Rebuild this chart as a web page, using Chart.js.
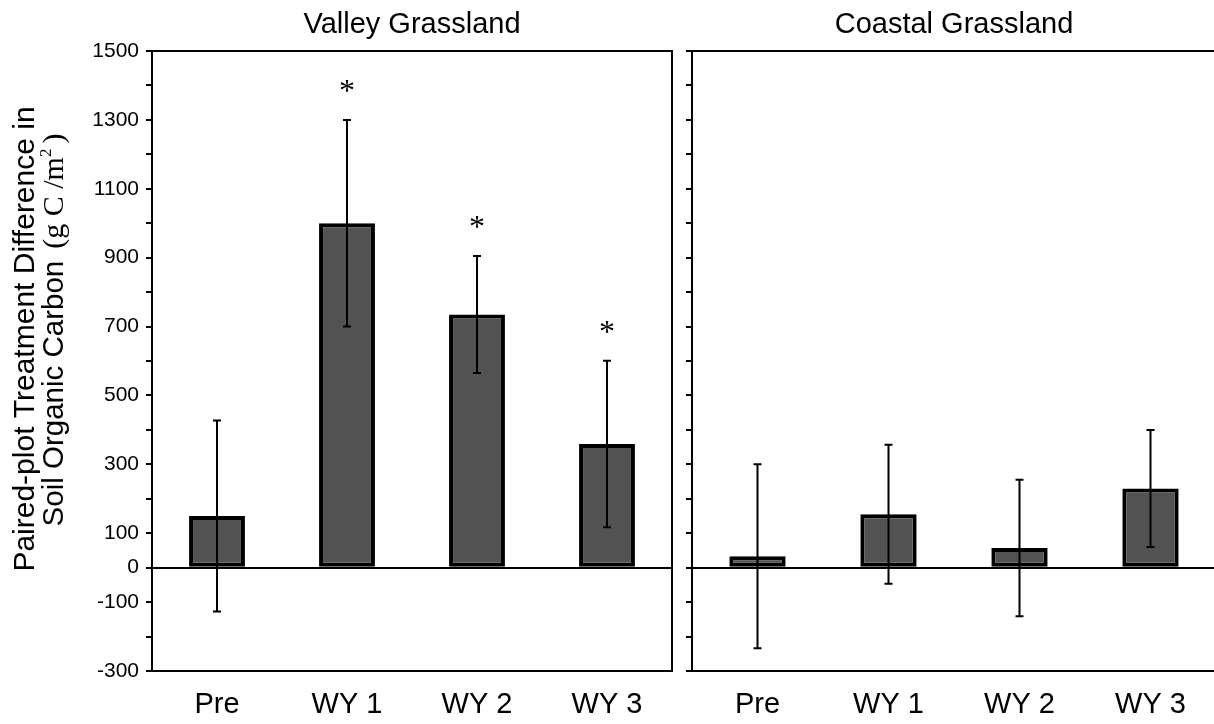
<!DOCTYPE html>
<html lang="en">
<head>
<meta charset="UTF-8">
<title>Paired-plot treatment difference in soil organic carbon</title>
<script src="https://cdn.jsdelivr.net/npm/chart.js"></script>
<style>
  html, body { margin: 0; padding: 0; background: #fff; overflow: hidden; }
  #wrap { position: relative; width: 1214px; height: 724px; }
  .panel { position: absolute; top: 0; }
  #valleyBox { left: 0; }
  #coastalBox { left: 680px; }
</style>
</head>
<body>
<div id="wrap">
  <div class="panel" id="valleyBox"><canvas id="valleyChart" width="680" height="724"></canvas></div>
  <div class="panel" id="coastalBox"><canvas id="coastalChart" width="540" height="724"></canvas></div>
</div>
<script>
// treatment difference (g C/m2) with error bars, per sampling year
const categories = ['Pre', 'WY 1', 'WY 2', 'WY 3'];
const valleyMean = [150, 1000, 735, 359];
const valleyErr = [277, 300, 170, 242];
const valleySig = [false, true, true, true];
const coastalMean = [33, 155, 57, 230];
const coastalErr = [267, 202, 198, 170];
const coastalSig = [false, false, false, false];
const yTickLabels = [1500, 1300, 1100, 900, 700, 500, 300, 100, 0, -100, -300];

const SANS = '"Liberation Sans", Arial, sans-serif';
const SERIF = '"Liberation Serif", "Times New Roman", serif';

// error bars + significance stars drawn on top of the bars
function errorBars(errs, sig) {
  return {
    id: 'errorBars',
    afterDatasetsDraw(chart) {
      const ctx = chart.ctx, y = chart.scales.y;
      const vals = chart.data.datasets[0].data;
      ctx.save();
      ctx.strokeStyle = '#000';
      ctx.fillStyle = '#000';
      ctx.lineWidth = 2;
      chart.getDatasetMeta(0).data.forEach((bar, i) => {
        const hi = y.getPixelForValue(vals[i] + errs[i]);
        const lo = y.getPixelForValue(vals[i] - errs[i]);
        ctx.beginPath();
        ctx.moveTo(bar.x, hi); ctx.lineTo(bar.x, lo);
        ctx.moveTo(bar.x - 4, hi); ctx.lineTo(bar.x + 4, hi);
        ctx.moveTo(bar.x - 4, lo); ctx.lineTo(bar.x + 4, lo);
        ctx.stroke();
        if (sig[i]) {
          ctx.font = '32px ' + SERIF;
          ctx.textAlign = 'center';
          ctx.textBaseline = 'alphabetic';
          ctx.fillText('*', bar.x, hi - 19);
        }
      });
      ctx.restore();
    }
  };
}

// top edge (and right edge on the left panel) plus panel title
function frame(title, withRight) {
  return {
    id: 'frame',
    afterDraw(chart) {
      const {ctx, chartArea: a} = chart;
      ctx.save();
      ctx.strokeStyle = '#000';
      ctx.lineWidth = 2;
      ctx.beginPath();
      ctx.moveTo(a.left - 1, a.top);
      ctx.lineTo(a.right, a.top);
      if (withRight) ctx.lineTo(a.right, a.bottom + 1);
      ctx.stroke();
      ctx.fillStyle = '#000';
      ctx.font = '29px ' + SANS;
      ctx.textAlign = 'center';
      ctx.textBaseline = 'alphabetic';
      ctx.fillText(title, (a.left + a.right) / 2, 33);
      ctx.restore();
    }
  };
}

// two-line y axis title, the unit part set in a serif face
const yTitle = {
  id: 'yTitle',
  afterDraw(chart) {
    const {ctx, chartArea: a} = chart;
    const cy = (a.top + a.bottom) / 2;
    ctx.save();
    ctx.fillStyle = '#000';
    ctx.textBaseline = 'alphabetic';

    ctx.save();
    ctx.translate(34, cy - 22);
    ctx.rotate(-Math.PI / 2);
    ctx.font = '30px ' + SANS;
    ctx.textAlign = 'center';
    ctx.fillText('Paired-plot Treatment Difference in', 0, 0);
    ctx.restore();

    const parts = [
      {t: 'Soil Organic Carbon', f: '29.5px ' + SANS, dy: 0, gap: 12},
      {t: '(g C /m', f: '30px ' + SERIF, dy: 0, gap: 0},
      {t: '2', f: '17px ' + SERIF, dy: -12, gap: 5},
      {t: ')', f: '30px ' + SERIF, dy: 0, gap: 0}
    ];
    let total = 0;
    parts.forEach(p => { ctx.font = p.f; p.w = ctx.measureText(p.t).width; total += p.w + p.gap; });
    ctx.save();
    ctx.translate(63, cy - 31);
    ctx.rotate(-Math.PI / 2);
    ctx.textAlign = 'left';
    let x = -total / 2;
    parts.forEach(p => {
      ctx.font = p.f;
      ctx.fillText(p.t, x, p.dy);
      x += p.w + p.gap;
    });
    ctx.restore();
    ctx.restore();
  }
};

function makeChart(id, mean, errs, sig, title, isLeft) {
  return new Chart(document.getElementById(id), {
    type: 'bar',
    data: {
      labels: categories,
      datasets: [{
        data: mean,
        backgroundColor: '#525252',
        borderColor: '#000',
        borderWidth: 4,
        borderSkipped: false,
        barPercentage: 0.43,
        categoryPercentage: 1
      }]
    },
    options: {
      responsive: false,
      animation: false,
      layout: { padding: { top: 51, right: isLeft ? 8 : 4, left: 0, bottom: 0 } },
      plugins: { legend: { display: false }, tooltip: { enabled: false } },
      scales: {
        x: {
          grid: { display: true, drawOnChartArea: false, drawTicks: false },
          border: { display: true, color: '#000', width: 2 },
          ticks: { color: '#000', font: { family: SANS, size: 29 }, padding: 17 },
          afterFit(s) { s.height = 53; }
        },
        y: {
          min: -300,
          max: 1500,
          grid: {
            color: ctx => (ctx.tick && ctx.tick.value === 0) ? '#000' : 'rgba(0,0,0,0)',
            lineWidth: 2,
            tickColor: '#000',
            tickLength: 6
          },
          border: { display: true, color: '#000', width: 2 },
          ticks: {
            stepSize: 100,
            autoSkip: false,
            color: '#000',
            padding: 7,
            font: { family: SANS, size: 21 },
            callback: v => (isLeft && yTickLabels.includes(v)) ? String(v) : ''
          },
          afterFit(s) { s.width = isLeft ? 152 : 12; }
        }
      }
    },
    plugins: [errorBars(errs, sig), frame(title, isLeft)].concat(isLeft ? [yTitle] : [])
  });
}

makeChart('valleyChart', valleyMean, valleyErr, valleySig, 'Valley Grassland', true);
makeChart('coastalChart', coastalMean, coastalErr, coastalSig, 'Coastal Grassland', false);
</script>
</body>
</html>
